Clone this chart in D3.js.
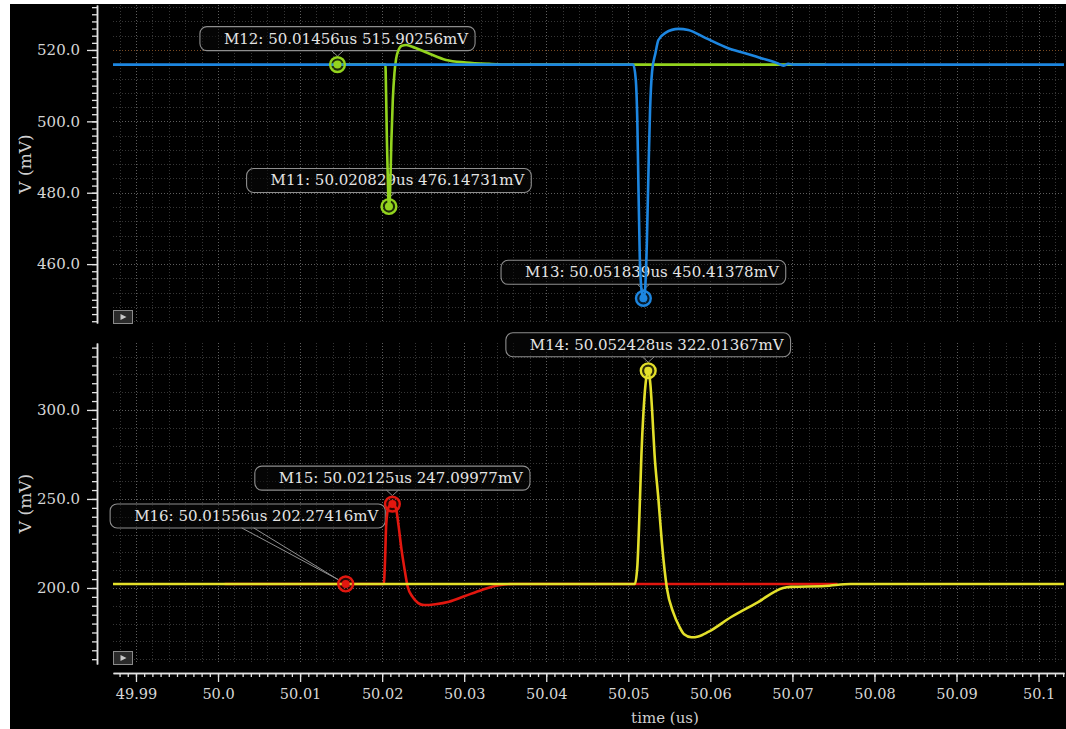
<!DOCTYPE html>
<html>
<head>
<meta charset="utf-8">
<script src="https://cdn.jsdelivr.net/npm/d3@7"></script>
<style>
  html, body { margin: 0; padding: 0; background: #fff; }
  svg { display: block; }
</style>
</head>
<body>
<svg id="chart" width="1066" height="729"></svg>
<script>
// ---------- data ----------
const xTickLabels = ["49.99", "50.0", "50.01", "50.02", "50.03", "50.04", "50.05", "50.06", "50.07", "50.08", "50.09", "50.1"];
const topTickLabels = ["460.0", "480.0", "500.0", "520.0"];
const bottomTickLabels = ["200.0", "250.0", "300.0"];

// upper panel traces (time in us, voltage in mV)
const blueTime = [49.9872, 50.0506, 50.0509, 50.0511, 50.05125, 50.0514, 50.0516, 50.051839, 50.05205, 50.05225, 50.05245, 50.05265, 50.0529, 50.0533, 50.05367, 50.05452, 50.0561, 50.05731, 50.05938, 50.06218, 50.06424, 50.06618, 50.06825, 50.0689, 50.0695, 50.0701, 50.1031];
const blueMv   = [515.9, 515.9, 512, 500, 480, 462, 453, 450.41378, 453, 465, 485, 503, 514, 519, 522.8, 524.8, 525.9, 525.6, 523.4, 520.5, 519.1, 517.7, 516.2, 515.6, 516.1, 515.9, 515.9];

const greenTime = [50.014, 50.0204, 50.02048, 50.02058, 50.0207, 50.020829, 50.02098, 50.02112, 50.0213, 50.0215, 50.0217, 50.022, 50.0224, 50.02293, 50.024, 50.0255, 50.02779, 50.03022, 50.033, 50.03544, 50.074];
const greenMv   = [515.9, 515.9, 508, 495, 483, 476.14731, 481, 494, 506, 513.5, 517.5, 520, 521.2, 521.4, 520.6, 519.2, 517.2, 516.5, 516.1, 515.9, 515.9];

// lower panel traces
const redTime = [50.0008, 50.0202, 50.02035, 50.0205, 50.0208, 50.02125, 50.02167, 50.022, 50.02235, 50.02268, 50.0231, 50.02369, 50.0244, 50.02512, 50.0265, 50.02815, 50.0301, 50.03216, 50.03423, 50.036, 50.0755];
const redMv   = [202.27, 202.27, 215, 236, 245.5, 247.09977, 245, 235, 222, 212, 201, 195.1, 191.5, 190.4, 190.9, 192.3, 195.5, 198.9, 201.5, 202.27, 202.27];

const yellowTime = [49.9872, 50.0508, 50.0511, 50.05135, 50.0516, 50.05184, 50.05209, 50.052428, 50.0527, 50.0529, 50.0532, 50.05367, 50.0541, 50.0547, 50.0555, 50.0562, 50.0568, 50.0577, 50.05853, 50.05974, 50.06254, 50.06582, 50.06886, 50.06983, 50.07396, 50.0771, 50.1031];
const yellowMv   = [202.27, 202.27, 212, 240, 275, 298, 314, 322.01367, 314, 300, 275, 250, 225, 200, 186, 178.5, 174, 172.3, 172.8, 175.3, 183.7, 192.1, 200, 200.6, 201.1, 202.27, 202.27];

// markers
const markerNames  = ["M12", "M11", "M13", "M14", "M15", "M16"];
const markerTimes  = ["50.01456", "50.020829", "50.051839", "50.052428", "50.02125", "50.01556"];
const markerValues = ["515.90256", "476.14731", "450.41378", "322.01367", "247.09977", "202.27416"];
const markerTrace  = ["green", "green", "blue", "yellow", "red", "red"];

// ---------- styling / layout ----------
const traceColor = { blue: "#1d86e0", green: "#93d41e", red: "#e2170f", yellow: "#e3e02a" };
const tracePanel = { blue: 0, green: 0, red: 1, yellow: 1 };
const FONT = "DejaVu Serif";
const calloutShift = { M16: [-98, -56] };   // callouts placed away from their marker

const svg = d3.select("#chart");
svg.append("rect").attr("x", 10).attr("y", 4).attr("width", 1056).attr("height", 725).attr("fill", "#000");

const x = d3.scaleLinear().domain([49.9872, 50.1031]).range([113, 1064]);
const yTop = d3.scaleLinear().domain([443.5, 532.6]).range([323, 5]);
const yBot = d3.scaleLinear().domain([157.3, 337.6]).range([664, 343]);

const panels = [
  { y: yTop, top: 5, bottom: 323, gridStep: 4, gridMajor: 20, minorStep: 2, labels: topTickLabels, accent: 520 },
  { y: yBot, top: 343, bottom: 664, gridStep: 10, gridMajor: 50, minorStep: 5, labels: bottomTickLabels, accent: null }
];

const defs = svg.append("defs");
panels.forEach((p, i) => {
  defs.append("clipPath").attr("id", "clip" + i)
    .append("rect").attr("x", 113).attr("y", p.top).attr("width", 951).attr("height", p.bottom - p.top);
});

const isMult = (v, step) => Math.abs(v / step - Math.round(v / step)) < 1e-6;

// grid
const vGrid = d3.range(0, 58).map(i => 49.988 + i * 0.002);
panels.forEach((p, i) => {
  const g = svg.append("g").attr("clip-path", `url(#clip${i})`);
  vGrid.forEach(t => {
    const major = isMult(t, 0.01);
    g.append("line")
      .attr("x1", Math.round(x(t)) + 0.5).attr("x2", Math.round(x(t)) + 0.5)
      .attr("y1", p.top).attr("y2", p.bottom)
      .attr("stroke", major ? "#5e5e5e" : "#363636")
      .attr("stroke-dasharray", "1,2");
  });
  const [lo, hi] = p.y.domain();
  const hVals = d3.range(Math.ceil(lo / p.gridStep) * p.gridStep, hi, p.gridStep);
  hVals.forEach(v => {
    const major = isMult(v, p.gridMajor);
    let col = major ? "#5e5e5e" : "#363636";
    if (p.accent !== null && Math.abs(v - p.accent) < 1e-6) col = "#7a4a22";
    g.append("line")
      .attr("x1", 113).attr("x2", 1064)
      .attr("y1", Math.round(p.y(v)) + 0.5).attr("y2", Math.round(p.y(v)) + 0.5)
      .attr("stroke", col)
      .attr("stroke-dasharray", "1,2");
  });
});

// y axes
panels.forEach(p => {
  const [lo, hi] = p.y.domain();
  const minorVals = d3.range(Math.ceil(lo / p.minorStep) * p.minorStep, hi, p.minorStep);
  const gMinor = svg.append("g").attr("transform", "translate(97,0)")
    .call(d3.axisLeft(p.y).tickValues(minorVals).tickSize(5).tickSizeOuter(0).tickFormat(""));
  const gMajor = svg.append("g").attr("transform", "translate(97,0)")
    .call(d3.axisLeft(p.y).tickValues(p.labels.map(Number)).tickSize(10).tickSizeOuter(0).tickPadding(7)
      .tickFormat((d, i) => p.labels[i]));
  [gMinor, gMajor].forEach(g => {
    g.selectAll(".domain").attr("stroke", "#e2e2e2").attr("stroke-width", 1.5);
    g.selectAll(".tick line").attr("stroke", "#e2e2e2").attr("stroke-width", 1.3);
  });
  gMajor.selectAll("text").attr("fill", "#d6d6d6").attr("font-family", FONT).attr("font-size", 15);
  svg.append("text")
    .attr("transform", `translate(31,${(p.top + p.bottom) / 2}) rotate(-90)`)
    .attr("text-anchor", "middle")
    .attr("fill", "#cfcfcf").attr("font-family", FONT).attr("font-size", 17)
    .text("V (mV)");
});

// x axis
const xMinor = d3.range(0, 116).map(i => 49.988 + i * 0.001);
const gxMinor = svg.append("g").attr("transform", "translate(0,673)")
  .call(d3.axisBottom(x).tickValues(xMinor).tickSize(4).tickSizeOuter(0).tickFormat(""));
const gxMajor = svg.append("g").attr("transform", "translate(0,673)")
  .call(d3.axisBottom(x).tickValues(xTickLabels.map(Number)).tickSize(9).tickSizeOuter(0).tickPadding(7)
    .tickFormat((d, i) => xTickLabels[i]));
[gxMinor, gxMajor].forEach(g => {
  g.selectAll(".domain").attr("stroke", "#e2e2e2").attr("stroke-width", 1.5);
  g.selectAll(".tick line").attr("stroke", "#e2e2e2").attr("stroke-width", 1.3);
});
gxMajor.selectAll("text").attr("fill", "#d6d6d6").attr("font-family", FONT).attr("font-size", 14.5);
svg.append("text").attr("x", 665).attr("y", 723).attr("text-anchor", "middle")
  .attr("fill", "#cfcfcf").attr("font-family", FONT).attr("font-size", 15).text("time (us)");

// small play buttons in the lower-left corner of each panel
panels.forEach(p => {
  const g = svg.append("g").attr("transform", `translate(113.5,${p.bottom - 12.5})`);
  g.append("rect").attr("width", 19).attr("height", 13).attr("fill", "#2a2a2a").attr("stroke", "#8a8a8a");
  g.append("path").attr("d", "M7,3.5 L13,6.5 L7,9.5 Z").attr("fill", "#c8c8c8");
});

// callout boxes
const calloutLayer = svg.append("g");
markerNames.forEach((name, i) => {
  const p = panels[tracePanel[markerTrace[i]]];
  const mx = x(+markerTimes[i]), my = p.y(+markerValues[i]);
  const [dx, dy] = calloutShift[name] || [0, -14];
  const cx = mx + dx, bottom = my + dy;
  const g = calloutLayer.append("g");
  const box = g.append("rect");
  const label = g.append("text")
    .attr("fill", "#e4e4e4").attr("font-family", FONT).attr("font-size", 15)
    .text(`${name}: ${markerTimes[i]}us ${markerValues[i]}mV`);
  const w = label.node().getComputedTextLength() + 31;
  const h = 24;
  box.attr("x", cx - w / 2).attr("y", bottom - h).attr("width", w).attr("height", h)
    .attr("rx", 7).attr("fill", "rgba(10,10,10,0.55)").attr("stroke", "#8e8e8e").attr("stroke-width", 1.1);
  label.attr("x", cx - w / 2 + 24).attr("y", bottom - 7);
  // tail from the box to the marker ring
  const vx = mx - cx, vy = my - bottom, len = Math.hypot(vx, vy);
  const ex = mx - vx / len * 8.5, ey = my - vy / len * 8.5;
  [-6, 6].forEach(o => {
    g.append("line").attr("x1", cx + o).attr("y1", bottom).attr("x2", ex).attr("y2", ey)
      .attr("stroke", "#8e8e8e").attr("stroke-width", 1);
  });
});

// traces
const traces = [
  { key: "green", t: greenTime, v: greenMv },
  { key: "blue", t: blueTime, v: blueMv },
  { key: "red", t: redTime, v: redMv },
  { key: "yellow", t: yellowTime, v: yellowMv }
];
traces.forEach(tr => {
  const pi = tracePanel[tr.key], p = panels[pi];
  const pts = tr.t.map((t, i) => [t, tr.v[i]]);
  const line = d3.line().x(d => x(d[0])).y(d => p.y(d[1])).curve(d3.curveMonotoneX);
  svg.append("path").attr("clip-path", `url(#clip${pi})`)
    .attr("d", line(pts)).attr("fill", "none")
    .attr("stroke", traceColor[tr.key]).attr("stroke-width", 2.6)
    .attr("stroke-linejoin", "round");
});

// markers
markerNames.forEach((name, i) => {
  const p = panels[tracePanel[markerTrace[i]]];
  const col = traceColor[markerTrace[i]];
  const g = svg.append("g").attr("transform", `translate(${x(+markerTimes[i])},${p.y(+markerValues[i])})`);
  g.append("circle").attr("r", 7.4).attr("fill", col).attr("fill-opacity", 0.2)
    .attr("stroke", col).attr("stroke-width", 2.4);
  g.append("circle").attr("r", 4).attr("fill", col);
});
</script>
</body>
</html>
